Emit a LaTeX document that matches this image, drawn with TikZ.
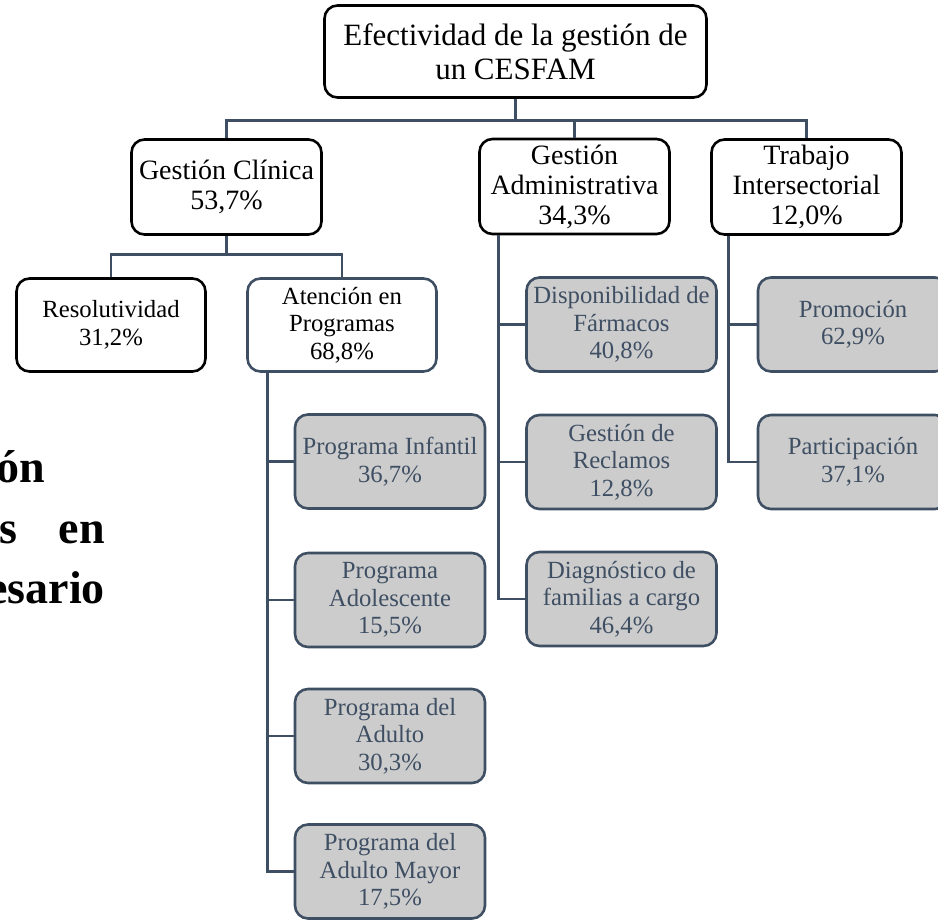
\documentclass[tikz,border=0pt]{standalone}
\usepackage{fontspec}
\setmainfont{Liberation Serif}
\usetikzlibrary{positioning}
\definecolor{slate}{HTML}{3F4F63}
\definecolor{boxgray}{HTML}{CCCCCC}

\begin{document}
\begin{tikzpicture}[x=1pt,y=-1pt,
    box/.style={rounded corners=13pt,line width=2.6pt,align=center,inner sep=0pt},
    topbox/.style={box,draw=black,fill=white,minimum width=382pt,minimum height=92pt,font=\fontsize{31}{34}\selectfont},
    areabox/.style={box,draw=black,fill=white,minimum width=190pt,minimum height=95pt,font=\fontsize{28}{30}\selectfont},
    subbox/.style={box,draw=black,fill=white,minimum width=189pt,minimum height=93pt,font=\fontsize{24.7}{27.5}\selectfont},
    itembox/.style={box,draw=slate,fill=boxgray,text=slate,minimum width=190pt,minimum height=94pt,font=\fontsize{24.7}{27.5}\selectfont},
    link/.style={draw=slate,line width=2.8pt},
    cuttext/.style={font=\bfseries\fontsize{46}{60}\selectfont,inner sep=0pt,anchor=base east}]
					\useasboundingbox (0,0) rectangle (938,920);
					
					% Root
					\node[topbox] (root) at (515.5,51.5) {Efectividad de la gestión de\\un CESFAM};
					
					% Areas
					\node[areabox] (clin) at (226.5,187) {Gestión Clínica\\53,7\%};
					\node[areabox] (admin) at (574.5,186.5) {Gestión\\Administrativa\\34,3\%};
					\node[areabox] (inter) at (806.5,187) {Trabajo\\Intersectorial\\12,0\%};
					
					% Gestion clinica
					\node[subbox] (resol) at (111,325) {Resolutividad\\31,2\%};
					\node[subbox,draw=slate] (aten) at (342,325) {Atención en\\Programas\\68,8\%};
					
					% Programas
					\node[itembox] (infan) at (390,461.5) {Programa Infantil\\36,7\%};
					\node[itembox] (adol) at (390,600) {Programa\\Adolescente\\15,5\%};
					\node[itembox] (adul) at (390,736) {Programa del\\Adulto\\30,3\%};
					\node[itembox] (mayor) at (390,871.5) {Programa del\\Adulto Mayor\\17,5\%};
					
					% Gestion administrativa
					\node[itembox] (farm) at (621.5,324.5) {Disponibilidad de\\Fármacos\\40,8\%};
					\node[itembox] (recl) at (621.5,462) {Gestión de\\Reclamos\\12,8\%};
					\node[itembox] (diag) at (621.5,599) {Diagnóstico de\\familias a cargo\\46,4\%};
					
					% Trabajo intersectorial
					\node[itembox] (promo) at (853,324.5) {Promoción\\62,9\%};
					\node[itembox] (parti) at (853,462) {Participación\\37,1\%};
					
					% Connectors
					\draw[link] (root.south) -- ++(0,22) coordinate (rootbus) -| (clin.north);
					\draw[link] (rootbus) -| (admin.north);
					\draw[link] (rootbus) -| (inter.north);
					\draw[link] (clin.south) -- ++(0,19) coordinate (clinbus) -| (resol.north);
					\draw[link] (clinbus) -| (aten.north);
					\draw[link] ([xshift=21pt]aten.south west) coordinate (atenbus) |- (mayor.west);
					\draw[link] (atenbus) |- (infan.west);
					\draw[link] (atenbus) |- (adol.west);
					\draw[link] (atenbus) |- (adul.west);
					\draw[link] ([xshift=20pt]admin.south west) coordinate (adminbus) |- (diag.west);
					\draw[link] (adminbus) |- (farm.west);
					\draw[link] (adminbus) |- (recl.west);
					\draw[link] ([xshift=18pt]inter.south west) coordinate (interbus) |- (parti.west);
					\draw[link] (interbus) |- (promo.west);
					
					% Text of the page behind
					\node[cuttext] (cutone) at (45,482) {ón};
					\node[cuttext] (cuttwo) at (105,543) {s\hspace{41pt}en};
					\node[cuttext] (cutthree) at (105,603) {esario};
				\end{tikzpicture}
\end{document}
